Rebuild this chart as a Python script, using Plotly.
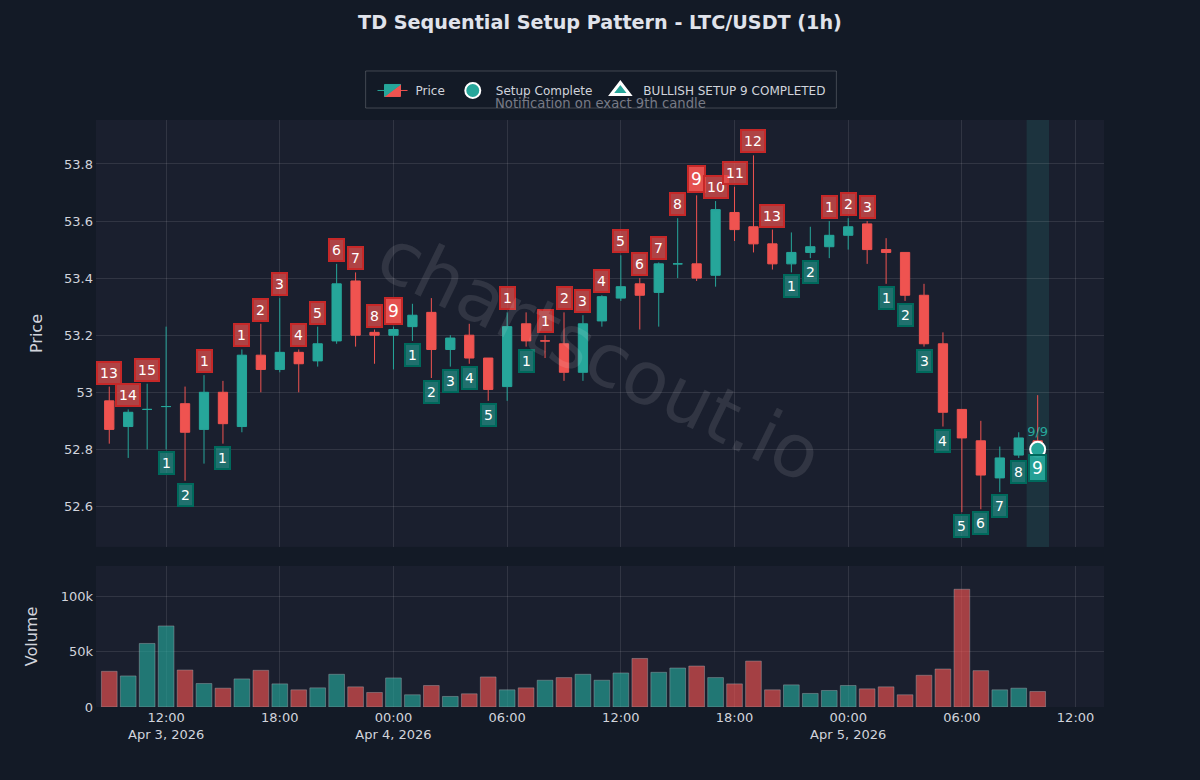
import pandas as pd
import plotly.graph_objects as go

times = pd.date_range("2026-04-03 09:00", periods=50, freq="h")

opens = [52.97, 52.88, 52.94, 52.95, 52.96, 52.87, 53.0, 52.88, 53.13, 53.08,
         53.14, 53.11, 53.18, 53.39, 53.21, 53.2, 53.23, 53.28, 53.15, 53.2,
         53.12, 53.02, 53.24, 53.18, 53.17, 53.07, 53.25, 53.33, 53.38, 53.35,
         53.45, 53.45, 53.41, 53.63, 53.58, 53.52, 53.45, 53.49, 53.51, 53.55,
         53.59, 53.5, 53.49, 53.34, 53.17, 52.94, 52.83, 52.7, 52.78, 52.83]
highs = [53.02, 52.94, 53.03, 53.23, 53.02, 53.06, 53.04, 53.15, 53.24, 53.33,
         53.15, 53.23, 53.45, 53.42, 53.22, 53.23, 53.31, 53.33, 53.2, 53.24,
         53.12, 53.28, 53.28, 53.2, 53.28, 53.27, 53.34, 53.48, 53.4, 53.455,
         53.61, 53.69, 53.67, 53.72, 53.83, 53.57, 53.56, 53.58, 53.6, 53.61,
         53.6, 53.54, 53.49, 53.38, 53.21, 52.94, 52.9, 52.81, 52.86, 52.99]
lows = [52.82, 52.77, 52.8, 52.8, 52.69, 52.75, 52.82, 52.86, 53.0, 53.07,
        53.0, 53.09, 53.17, 53.16, 53.1, 53.08, 53.18, 53.05, 53.09, 53.1,
        52.97, 52.97, 53.16, 53.12, 53.04, 53.04, 53.23, 53.32, 53.22, 53.23,
        53.4, 53.39, 53.37, 53.53, 53.49, 53.43, 53.42, 53.47, 53.47, 53.5,
        53.45, 53.38, 53.32, 53.16, 52.88, 52.58, 52.59, 52.65, 52.77, 52.79]
closes = [52.87, 52.93, 52.94, 52.95, 52.86, 53.0, 52.89, 53.13, 53.08, 53.14,
          53.1, 53.17, 53.38, 53.2, 53.2, 53.22, 53.27, 53.15, 53.19, 53.12,
          53.01, 53.23, 53.18, 53.18, 53.07, 53.24, 53.335, 53.37, 53.34, 53.45,
          53.45, 53.4, 53.64, 53.57, 53.52, 53.45, 53.49, 53.51, 53.55, 53.58,
          53.5, 53.49, 53.34, 53.17, 52.93, 52.84, 52.71, 52.77, 52.84, 52.8]
volumes = [32400, 28200, 57700, 73600, 33600, 21300, 17100, 25500, 33300, 21000,
           15600, 17400, 29700, 18300, 13200, 26400, 11100, 19500, 9600, 12000,
           27300, 15600, 17400, 24300, 26700, 29700, 24300, 30900, 44100, 31500,
           35400, 37200, 26700, 21000, 41700, 15600, 20100, 12300, 15000, 19500,
           16500, 18300, 11100, 28800, 34500, 106900, 33000, 15600, 17100, 14100]

# td sequential counts, positive sits above the candle, negative below
counts = [13, 14, 15, -1, -2, 1, -1, 1, 2, 3, 4, 5, 6, 7, 8, 9, -1, -2, -3, -4,
          -5, 1, -1, 1, 2, 3, 4, 5, 6, 7, 8, 9, 10, 11, 12, 13, -1, -2, 1, 2,
          3, -1, -2, -3, -4, -5, -6, -7, -8, -9]

up_color = "#26a69a"
down_color = "#ef5350"

fig = go.Figure()

fig.add_trace(go.Candlestick(
    x=times, open=opens, high=highs, low=lows, close=closes,
    name="Price",
    xaxis="x", yaxis="y",
    increasing=dict(line=dict(color=up_color, width=1), fillcolor=up_color),
    decreasing=dict(line=dict(color=down_color, width=1), fillcolor=down_color),
))

fig.add_trace(go.Scatter(
    x=[times[-1]], y=[closes[-1]],
    mode="markers+text",
    name="Setup Complete",
    text=["9/9"],
    textposition="top center",
    textfont=dict(color=up_color, size=13),
    marker=dict(size=15, color=up_color, line=dict(color="white", width=2)),
    xaxis="x", yaxis="y",
))

# legend entry only, nothing drawn on the chart
fig.add_trace(go.Scatter(
    x=[None], y=[None],
    mode="markers",
    name="BULLISH SETUP 9 COMPLETED",
    marker=dict(size=20, symbol="triangle-up", color=up_color, line=dict(color="white", width=3)),
    xaxis="x", yaxis="y",
))

fig.add_trace(go.Bar(
    x=times, y=volumes,
    showlegend=False,
    marker=dict(
        color=[up_color if c >= o else down_color for o, c in zip(opens, closes)],
        opacity=0.65,
        line=dict(color="rgba(255,255,255,0.4)", width=1),
    ),
    xaxis="x", yaxis="y2",
))

for t, count, high, low in zip(times, counts, highs, lows):
    above = count > 0
    big = abs(count) == 9
    if above:
        fill = "rgba(239,83,80,0.95)" if big else "rgba(239,83,80,0.7)"
    else:
        fill = "rgba(38,166,154,0.95)" if big else "rgba(38,166,154,0.6)"
    fig.add_annotation(
        x=t, y=high if above else low,
        xref="x", yref="y",
        text=str(abs(count)),
        showarrow=False,
        yanchor="bottom" if above else "top",
        yshift=2 if above else -2,
        font=dict(color="white", size=17 if big else 14),
        bgcolor=fill,
        bordercolor="#c62828" if above else "#00695c",
        borderwidth=2,
        borderpad=2,
    )

fig.add_annotation(
    x=0.5, y=0.6, xref="paper", yref="paper",
    text="chartscout.io",
    showarrow=False,
    textangle=26,
    font=dict(size=74, color="rgba(255,255,255,0.1)"),
)
fig.add_annotation(
    x=0.5, y=1.0273, xref="paper", yref="paper", yanchor="middle",
    text="Notification on exact 9th candle",
    showarrow=False,
    font=dict(size=13.2, color="#787b86"),
)

fig.add_shape(
    type="rect", xref="x", yref="y domain",
    x0=times[-1] - pd.Timedelta(minutes=35), x1=times[-1] + pd.Timedelta(minutes=36),
    y0=0, y1=1,
    fillcolor="rgba(38,166,154,0.15)", line_width=0, layer="below",
)
# legend frame
fig.add_shape(
    type="rect", xref="paper", yref="paper",
    x0=0.2675, x1=0.7345, y0=1.0204, y1=1.0835,
    line=dict(color="rgba(255,255,255,0.2)", width=1),
)

grid = "rgba(255,255,255,0.1)"
fig.update_layout(
    title=dict(
        text="<b>TD Sequential Setup Pattern - LTC/USDT (1h)</b>",
        x=0.5, xanchor="center", y=0.972, yanchor="middle",
        font=dict(size=19.2, color="#e0e3eb"),
    ),
    font=dict(family="DejaVu Sans", color="#d1d4dc", size=13),
    paper_bgcolor="#131a26",
    plot_bgcolor="#1a1f2e",
    margin=dict(l=96, r=96, t=120, b=73),
    showlegend=True,
    legend=dict(
        orientation="h", x=0.5, xanchor="center", y=1.075, yanchor="top",
        bgcolor="rgba(0,0,0,0)", itemwidth=36,
        font=dict(size=12),
    ),
    bargap=0.17,
    xaxis=dict(
        anchor="y2", domain=[0, 1], rangeslider=dict(visible=False),
        range=["2026-04-03 08:18", "2026-04-05 13:30"],
        gridcolor=grid, tickfont=dict(size=13), ticklabelstandoff=1,
    ),
    yaxis=dict(
        domain=[0.2726, 1], range=[52.458, 53.954], dtick=0.2,
        title=dict(text="Price", font=dict(size=16), standoff=17),
        gridcolor=grid, zeroline=False, tickfont=dict(size=13), ticklabelstandoff=2,
    ),
    yaxis2=dict(
        domain=[0, 0.2402], range=[0, 128000],
        title=dict(text="Volume", font=dict(size=16), standoff=19),
        gridcolor=grid, zeroline=False, tickfont=dict(size=13), ticklabelstandoff=2,
        tickvals=[0, 50000, 100000], ticktext=["0", "50k", "100k"],
    ),
)

fig.write_html(
    "out.html",
    config=dict(displayModeBar=False),
    post_script="document.body.style.margin='0';window.dispatchEvent(new Event('resize'));",
)
